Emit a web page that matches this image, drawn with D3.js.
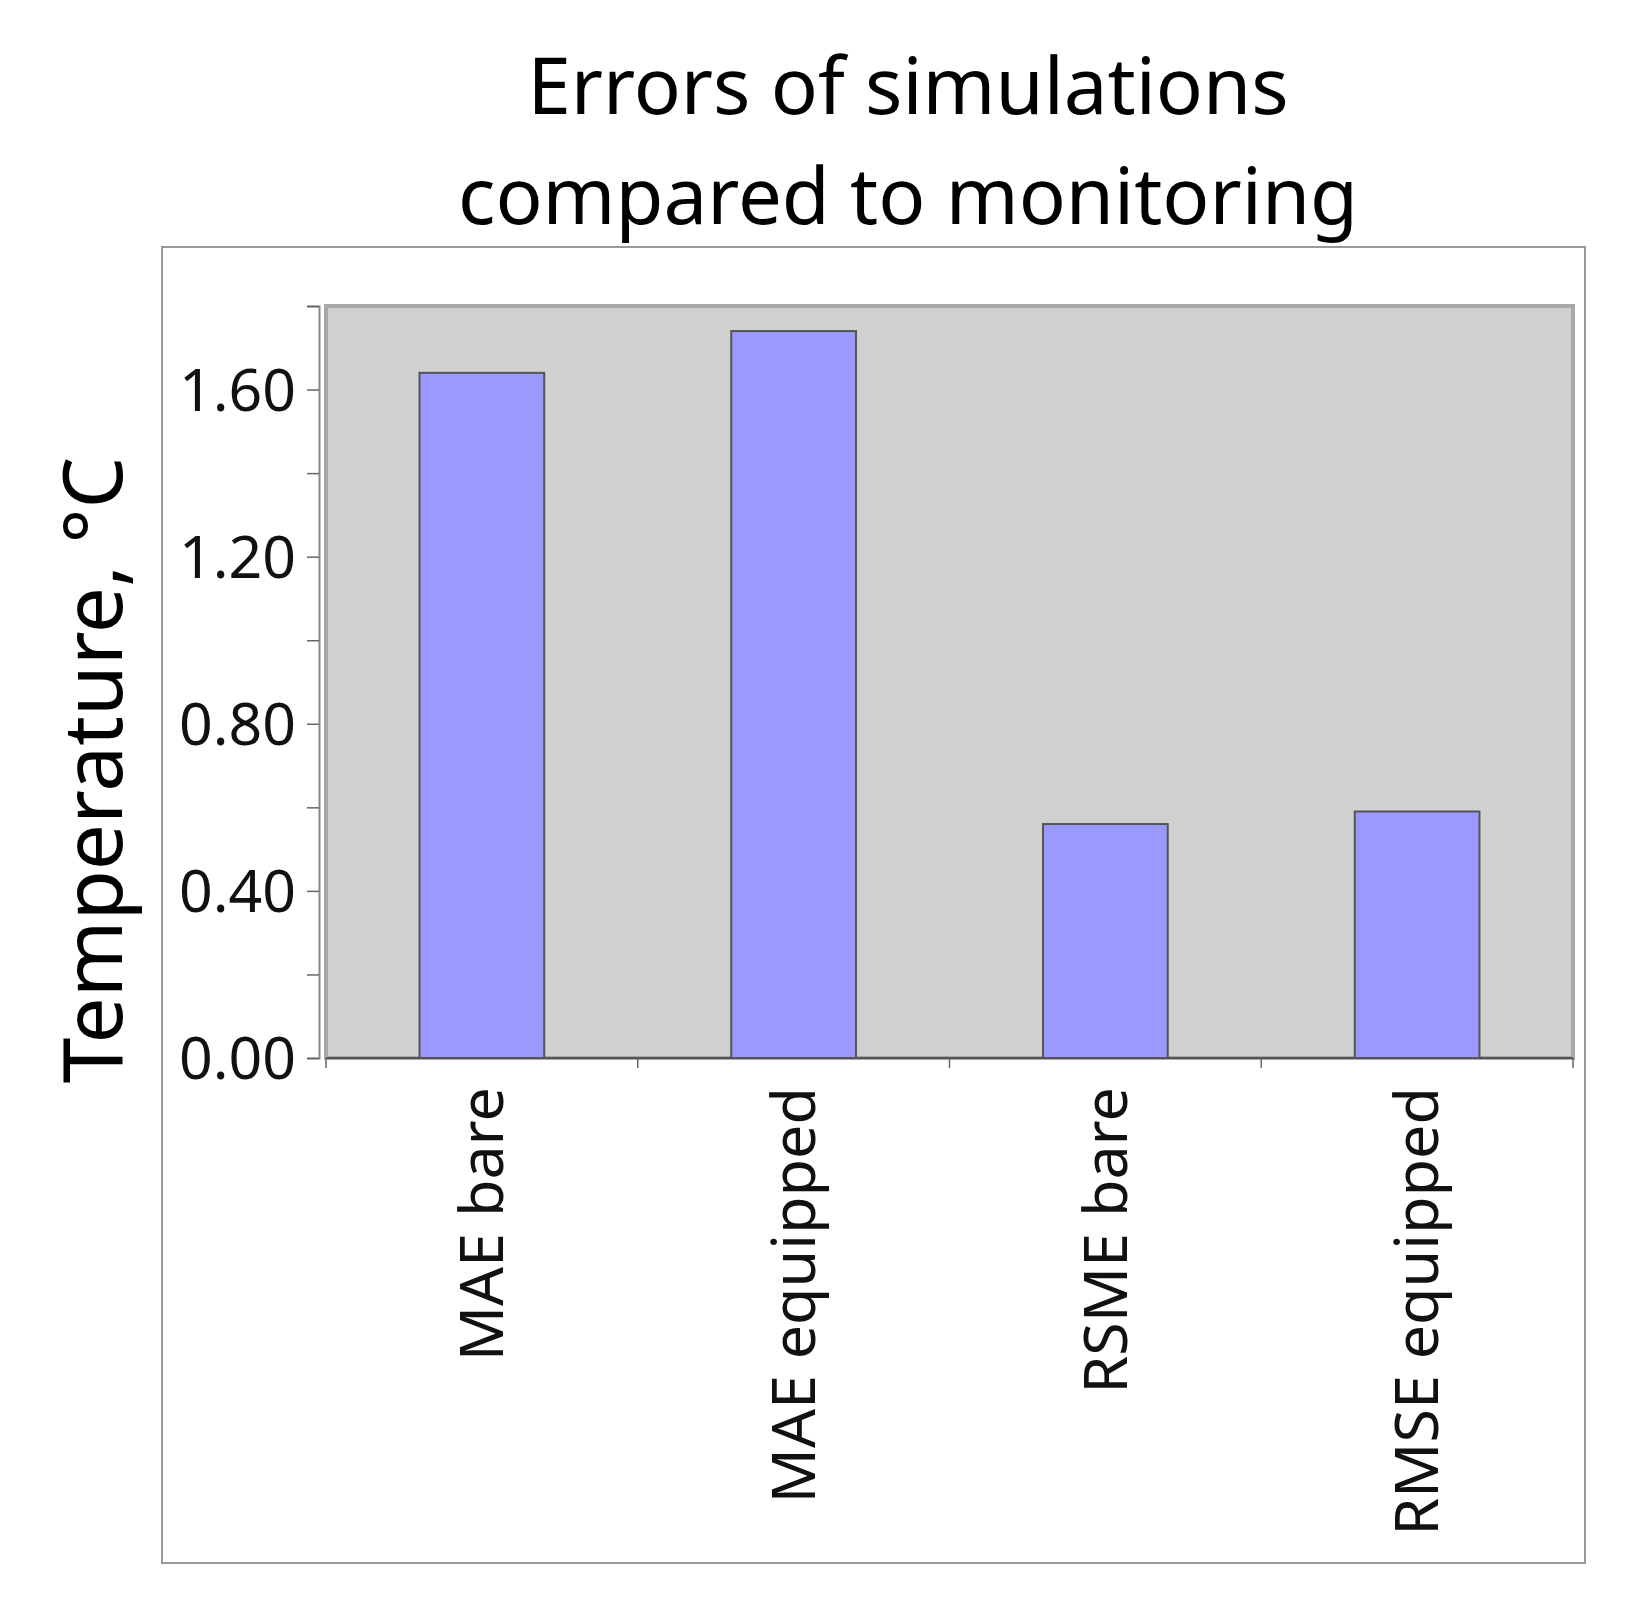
<!DOCTYPE html><html><head><meta charset="utf-8"><script src="https://cdn.jsdelivr.net/npm/d3@7"></script>
<style>body{margin:0;background:#fff}text{font-family:"Noto Sans",sans-serif}</style></head><body>
<svg id="c" width="1632" height="1615"></svg>
<script>
const categories=["MAE bare","MAE equipped","RSME bare","RMSE equipped"];
const values=[1.64,1.74,0.56,0.59];
const yTicks=[0,0.4,0.8,1.2,1.6];
const title=["Errors of simulations","compared to monitoring"];
const yLabel="Temperature, °C";
const svg=d3.select("#c");
const L=326,R=1573,T=306,B=1058;
svg.append("rect").attr("x",162).attr("y",247).attr("width",1423).attr("height",1316).attr("fill","#fff").attr("stroke","#999").attr("stroke-width",2);
const x=d3.scaleBand().domain(categories).range([L,R]).paddingInner(0.6).paddingOuter(0.3);
const y=d3.scaleLinear().domain([0,1.8]).range([B,T]);
svg.append("rect").attr("x",L).attr("y",T).attr("width",R-L).attr("height",B-T).attr("fill","#d0d0d0").attr("stroke","#a8a8a8").attr("stroke-width",4);
svg.selectAll(".bar").data(values).join("rect").attr("x",(d,i)=>x(categories[i])).attr("y",d=>y(d)).attr("width",x.bandwidth()).attr("height",d=>B-y(d)).attr("fill","#9999ff").attr("stroke","#555").attr("stroke-width",2);
const ya=svg.append("g").attr("transform",`translate(319,0)`).call(d3.axisLeft(y).tickValues(d3.range(0,1.81,0.2)).tickSize(12).tickFormat(d=>yTicks.some(t=>Math.abs(t-d)<1e-6)?d3.format(".2f")(d):""));
ya.select(".domain").attr("stroke","#888").attr("stroke-width",2);
ya.selectAll(".tick line").attr("stroke","#666").attr("stroke-width",1.5);
ya.selectAll(".tick text").attr("font-size",59).attr("fill","#111").attr("x",-23).attr("dy","0.35em").attr("font-family","Noto Sans");
const xa=svg.append("g").attr("transform",`translate(0,${B})`);
xa.append("line").attr("x1",L).attr("x2",R).attr("stroke","#555").attr("stroke-width",2);
const step=(R-L)/categories.length;
d3.range(categories.length+1).forEach(i=>xa.append("line").attr("x1",L+i*step).attr("x2",L+i*step).attr("y1",0).attr("y2",10).attr("stroke","#666").attr("stroke-width",1.5));
categories.forEach(c=>svg.append("text").attr("transform",`translate(${x(c)+x.bandwidth()/2},1087) rotate(-90)`).attr("text-anchor","end").attr("dy","0.35em").attr("font-size",61).attr("fill","#111").text(c));
title.forEach((t,i)=>svg.append("text").attr("x",908).attr("y",114+i*110).attr("text-anchor","middle").attr("font-size",78).attr("font-family","DejaVu Sans").attr("fill","#000").text(t));
svg.append("text").attr("transform","translate(122,770) rotate(-90)").attr("text-anchor","middle").attr("font-size",82).attr("font-family","DejaVu Sans").attr("fill","#000").text(yLabel);
</script></body></html>
